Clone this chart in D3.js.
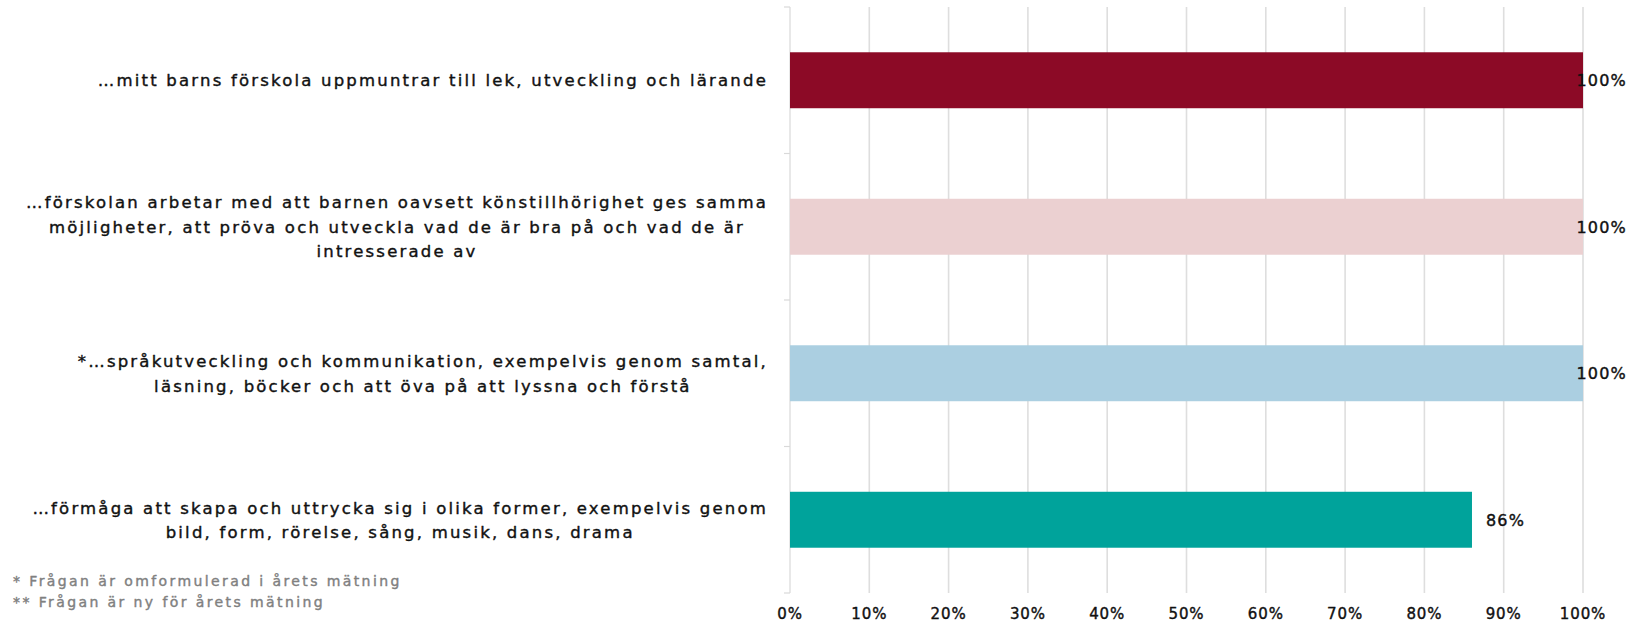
<!DOCTYPE html>
<html>
<head>
<meta charset="utf-8">
<script src="https://cdn.jsdelivr.net/npm/d3@7"></script>
<style>
  html, body { margin: 0; padding: 0; background: #ffffff; }
  svg { display: block; font-family: "DejaVu Sans", "Liberation Sans", sans-serif; }
  .txt { paint-order: stroke; stroke-linejoin: round; }
</style>
</head>
<body>
<svg id="chart" width="1640" height="624"></svg>
<script>
// ---- data ----
const categories = [
  ["…mitt barns förskola uppmuntrar till lek, utveckling och lärande"],
  ["…förskolan arbetar med att barnen oavsett könstillhörighet ges samma",
   "möjligheter, att pröva och utveckla vad de är bra på och vad de är",
   "intresserade av"],
  ["*…språkutveckling och kommunikation, exempelvis genom samtal,",
   "läsning, böcker och att öva på att lyssna och förstå"],
  ["…förmåga att skapa och uttrycka sig i olika former, exempelvis genom",
   "bild, form, rörelse, sång, musik, dans, drama"]
];
const values = [1.00, 1.00, 1.00, 0.86];
const barColors = ["#8c0a26", "#ebd0d1", "#abcfe1", "#00a39b"];
const xTicks = [0, 0.1, 0.2, 0.3, 0.4, 0.5, 0.6, 0.7, 0.8, 0.9, 1.0];
const footnotes = ["* Frågan är omformulerad i årets mätning",
                   "** Frågan är ny för årets mätning"];

// ---- layout ----
const W = 1640, H = 624;
const plot = { left: 790, right: 1583, top: 7, bottom: 593 };
const svg = d3.select("#chart");

const x = d3.scaleLinear().domain([0, 1]).range([plot.left, plot.right]);
const y = d3.scaleBand().domain(d3.range(categories.length))
  .range([plot.top, plot.bottom]).paddingInner(0.618).paddingOuter(0.309);

const pct = d3.format(".0%");

// gridlines
svg.append("g").selectAll("line").data(xTicks.slice(1)).join("line")
  .attr("x1", d => x(d)).attr("x2", d => x(d))
  .attr("y1", plot.top).attr("y2", plot.bottom)
  .attr("stroke", "#dedede").attr("stroke-width", 1.6);

// left (category) axis line with boundary ticks
const step = y.step();
const boundaries = d3.range(categories.length + 1).map(i => plot.top + i * step);
const axisG = svg.append("g").attr("stroke", "#d9d9d9").attr("stroke-width", 1.2).attr("fill", "none");
axisG.append("line").attr("x1", x(0)).attr("x2", x(0)).attr("y1", plot.top).attr("y2", plot.bottom);
axisG.selectAll("line.tk").data(boundaries).join("line").attr("class", "tk")
  .attr("x1", x(0) - 6).attr("x2", x(0)).attr("y1", d => d).attr("y2", d => d);

// bars
svg.append("g").selectAll("rect").data(values).join("rect")
  .attr("x", x(0)).attr("y", (d, i) => y(i))
  .attr("width", d => x(d) - x(0)).attr("height", y.bandwidth())
  .attr("fill", (d, i) => barColors[i]);

// value labels
const vl = svg.append("g").selectAll("text").data(values).join("text")
  .attr("class", "txt")
  .attr("y", (d, i) => y(i) + y.bandwidth() / 2 + 6)
  .attr("font-size", 16).attr("letter-spacing", 1.2)
  .attr("fill", "#111").attr("stroke", "#111").attr("stroke-width", 0.4)
  .text(d => pct(d));
vl.attr("x", function(d) {
  const w = this.getComputedTextLength();
  return Math.min(x(d) + 14, W - 13 - w);
});

// x axis tick labels
svg.append("g").selectAll("text").data(xTicks).join("text")
  .attr("class", "txt")
  .attr("x", d => x(d)).attr("y", 619)
  .attr("text-anchor", "middle").attr("font-size", 15)
  .attr("letter-spacing", 0.9).attr("fill", "#111")
  .attr("stroke", "#111").attr("stroke-width", 0.4)
  .text(d => pct(d));

// category labels (block right-aligned, lines centered)
const labelRight = 768, lineH = 24.5;
categories.forEach((lines, i) => {
  const g = svg.append("g");
  const cy = y(i) + y.bandwidth() / 2;
  const t = g.selectAll("text").data(lines).join("text")
    .attr("class", "txt")
    .attr("y", (d, j) => cy + 6 + (j - (lines.length - 1) / 2) * lineH)
    .attr("text-anchor", "middle").attr("font-size", 16.5)
    .attr("letter-spacing", 2.2).attr("fill", "#111")
    .attr("stroke", "#111").attr("stroke-width", 0.4)
    .text(d => d);
  let maxW = 0;
  t.each(function() { maxW = Math.max(maxW, this.getComputedTextLength()); });
  t.attr("x", labelRight - maxW / 2);
});

// footnotes
svg.append("g").selectAll("text").data(footnotes).join("text")
  .attr("class", "txt")
  .attr("x", 13).attr("y", (d, i) => 586 + i * 21)
  .attr("font-size", 14).attr("letter-spacing", 2.4).attr("fill", "#808080")
  .attr("stroke", "#808080").attr("stroke-width", 0.4)
  .text(d => d);
</script>
</body>
</html>
